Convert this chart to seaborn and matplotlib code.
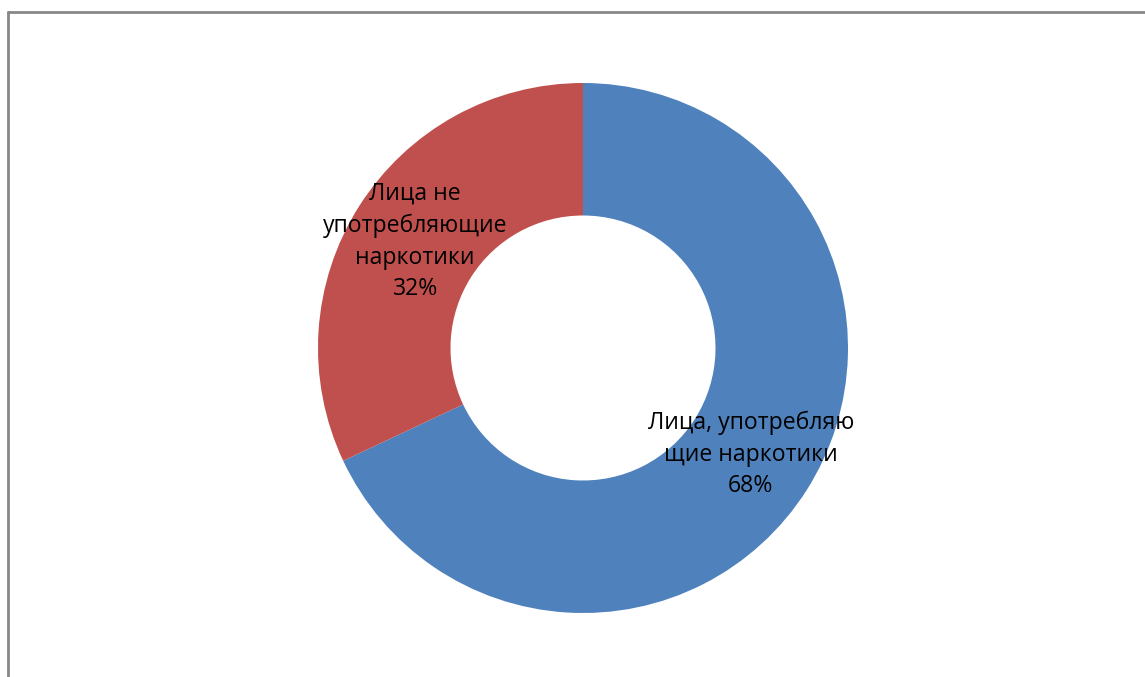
import matplotlib
matplotlib.use("Agg")
import matplotlib.pyplot as plt
import seaborn as sns
import numpy as np
from matplotlib.lines import Line2D

categories = ["Лица, употребляю\nщие наркотики", "Лица не\nупотребляющие\nнаркотики"]
values = [68, 32]
colors = ["#4F81BD", "#C0504D"]

sns.set_theme(style="white")
plt.rcParams['font.family'] = ['Open Sans', 'DejaVu Sans']

W, H = 1145, 677
fig = plt.figure(figsize=(W / 100, H / 100), dpi=100)
fig.patch.set_facecolor("white")

cx, cy, r = 583, 348, 265
ax = fig.add_axes([(cx - r) / W, (H - cy - r) / H, 2 * r / W, 2 * r / H])
wedges, _ = ax.pie(values, colors=colors, startangle=90, counterclock=False,
                   radius=1.0, wedgeprops=dict(width=0.5, linewidth=0))
ax.set_xlim(-1, 1)
ax.set_ylim(-1, 1)
ax.set_aspect("equal")
ax.axis("off")

for w, lab, v in zip(wedges, categories, values):
    mid = np.deg2rad((w.theta1 + w.theta2) / 2)
    ax.text(0.75 * np.cos(mid), 0.75 * np.sin(mid), f"{lab}\n{v}%",
            ha="center", va="center", fontsize=16.6, linespacing=1.42,
            color="black")

# outer frame
fc = "#888888"
fig.add_artist(Line2D([8 / W, 8 / W], [0, 1 - 12 / H], color=fc, lw=2,
                      transform=fig.transFigure))
fig.add_artist(Line2D([8 / W, 1], [1 - 12 / H, 1 - 12 / H], color=fc, lw=2,
                      transform=fig.transFigure))

fig.savefig("out.png", dpi=100)
